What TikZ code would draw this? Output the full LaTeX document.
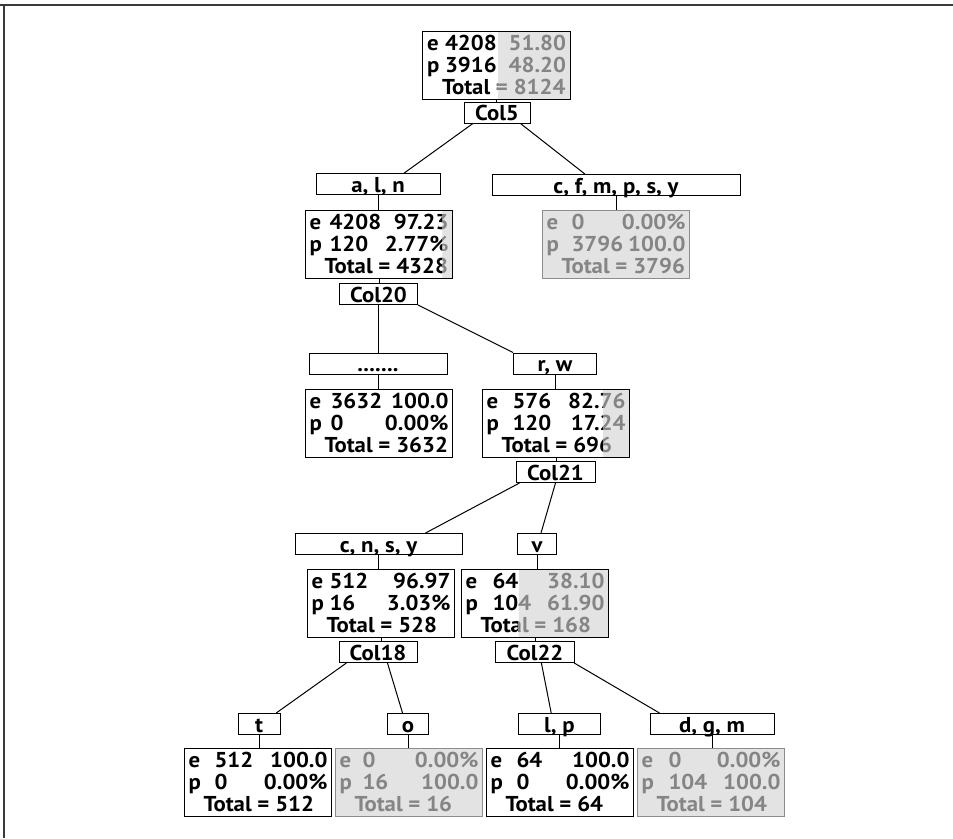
\documentclass[tikz,border=0pt]{standalone}
\usepackage{fontspec}
\setmainfont[FakeStretch=1.06]{PT Sans}
\usetikzlibrary{positioning, calc}

\definecolor{boxgray}{HTML}{E3E3E3}
\definecolor{txtgray}{HTML}{858585}
\definecolor{edgegray}{HTML}{8C8C8C}
\definecolor{framegray}{HTML}{3A3A3A}

\tikzset{
  treefont/.style={font=\bfseries\fontsize{21.5}{22}\selectfont},
  splitbox/.style={draw, line width=1pt, treefont, inner xsep=0pt, inner ysep=2pt,
    minimum height=21pt, text height=16pt, text depth=0pt},
  statnode/.style={inner sep=0pt, minimum width=147pt, minimum height=68pt, anchor=north},
  stattxt/.style={treefont, inner sep=0pt},
  branch/.style={line width=1pt},
}

% the three rows of a statistics box, in colour #1
\newcommand{\statrows}[1]{%
  \node[stattxt, #1, anchor=base west] (\nm-e) at ($(\nm.north west)+(4,19)$) {e};
  \node[stattxt, #1, anchor=base west] (\nm-ec) at ($(\nm.north west)+(\co,19)$) {\ec};
  \node[stattxt, #1, anchor=base east] (\nm-ep) at ($(\nm.north east)+(-4,19)$) {\ep};
  \node[stattxt, #1, anchor=base west] (\nm-p) at ($(\nm.north west)+(4,41)$) {p};
  \node[stattxt, #1, anchor=base west] (\nm-pc) at ($(\nm.north west)+(\co,41)$) {\pc};
  \node[stattxt, #1, anchor=base east] (\nm-pp) at ($(\nm.north east)+(-4,41)$) {\pp};
  \node[stattxt, #1, anchor=base west] (\nm-t) at ($(\nm.north west)+(19,63)$) {Total = \tot};
}

\begin{document}
\begin{tikzpicture}[x=1pt, y=-1pt]
  \useasboundingbox (0,0) rectangle (953,838);
  \draw[framegray, line width=2pt] (0,5) -- (953,5);
  \draw[framegray, line width=2pt] (4,5) -- (4,838);

  % statistics boxes: name/x/top/gray part/count column/e count/e pct/p count/p pct/total/border
  \foreach \nm/\cx/\ty/\fr/\co/\ec/\ep/\pc/\pp/\tot/\bc in {
      root/496.5/31/0.49/22/4208/51.80/3916/48.20/8124/black,
      s4328/379/210/0.07/24/4208/97.23/120/2.77\%/4328/black,
      s3796/616/210/1/29/0/0.00\%/3796/100.0/3796/edgegray,
      s3632/379/389/0/25/3632/100.0/0/0.00\%/3632/black,
      s696/556/389/0.18/30/576/82.76/120/17.24/696/black,
      s528/381/569/0/22/512/96.97/16/3.03\%/528/black,
      s168/535/569/0.61/31/64/38.10/104/61.90/168/black,
      s512/258/748/0/30/512/100.0/0/0.00\%/512/black,
      s16/409/748/1/27/0/0.00\%/16/100.0/16/edgegray,
      s64/560/748/0/30/64/100.0/0/0.00\%/64/black,
      s104/711/748/1/31/0/0.00\%/104/100.0/104/edgegray}
  {
    \node[statnode] (\nm) at (\cx,\ty) {};
    \statrows{black}
    \begin{scope}
      \clip ($(\nm.north east)!\fr!(\nm.north west)$) rectangle (\nm.south east);
      \fill[boxgray] (\nm.north west) rectangle (\nm.south east);
      \statrows{txtgray}
    \end{scope}
    \draw[\bc, line width=1pt] (\nm.north west) rectangle (\nm.south east);
  }

  % split and value boxes
  \node[splitbox, minimum width=66pt] (col5) at (497,112.5) {Col5};
  \node[splitbox, minimum width=124pt] (aln) at (378,184) {a, l, n};
  \node[splitbox, minimum width=248pt] (cfm) at (616,185) {c, f, m, p, s, y};
  \node[splitbox, minimum width=78pt] (col20) at (378.5,294) {Col20};
  \node[splitbox, minimum width=138pt] (dots) at (378,363.5) {.......};
  \node[splitbox, minimum width=83pt] (rw) at (555,363.5) {r, w};
  \node[splitbox, minimum width=79pt] (col21) at (555.5,472) {Col21};
  \node[splitbox, minimum width=167pt] (cnsy) at (378.5,544) {c, n, s, y};
  \node[splitbox, minimum width=39pt] (v) at (537,544) {v};
  \node[splitbox, minimum width=78pt] (col18) at (378,652) {Col18};
  \node[splitbox, minimum width=79pt] (col22) at (535,652) {Col22};
  \node[splitbox, minimum width=42pt] (t) at (259,724) {t};
  \node[splitbox, minimum width=41pt] (o) at (408,724) {o};
  \node[splitbox, minimum width=82pt] (lp) at (559.5,724) {l, p};
  \node[splitbox, minimum width=124pt] (dgm) at (712,724) {d, g, m};

  % connectors
  \draw[branch] (root.south) -- (root.south |- col5.north);
  \draw[branch] ($(col5.south west)!0.14!(col5.south east)$) -- ($(aln.north west)!0.71!(aln.north east)$);
  \draw[branch] ($(col5.south west)!0.85!(col5.south east)$) -- ($(cfm.north west)!0.375!(cfm.north east)$);
  \draw[branch] (aln.south) -- (aln.south |- s4328.north);
  \draw[branch] (cfm.south) -- (cfm.south |- s3796.north);
  \draw[branch] (s4328.south) -- (s4328.south |- col20.north);
  \draw[branch] (col20.south) -- (col20.south |- dots.north);
  \draw[branch] (col20.south east) -- (rw.north west);
  \draw[branch] (dots.south) -- (dots.south |- s3632.north);
  \draw[branch] (rw.south) -- (rw.south |- s696.north);
  \draw[branch] (s696.south) -- (s696.south |- col21.north);
  \draw[branch] ($(col21.south west)!0.05!(col21.south east)$) -- ($(cnsy.north west)!0.78!(cnsy.north east)$);
  \draw[branch] ($(col21.south west)!0.5!(col21.south east)$) -- ($(v.north west)!0.6!(v.north east)$);
  \draw[branch] (cnsy.south) -- (cnsy.south |- s528.north);
  \draw[branch] (v.south) -- (v.south |- s168.north);
  \draw[branch] (s528.south) -- (s528.south |- col18.north);
  \draw[branch] (s168.south) -- (s168.south |- col22.north);
  \draw[branch] ($(col18.south west)!0.1!(col18.south east)$) -- ($(t.north west)!0.9!(t.north east)$);
  \draw[branch] ($(col18.south west)!0.62!(col18.south east)$) -- ($(o.north west)!0.37!(o.north east)$);
  \draw[branch] ($(col22.south west)!0.58!(col22.south east)$) -- ($(lp.north west)!0.4!(lp.north east)$);
  \draw[branch] ($(col22.south west)!0.99!(col22.south east)$) -- ($(dgm.north west)!0.08!(dgm.north east)$);
  \draw[branch] (t.south) -- (t.south |- s512.north);
  \draw[branch] (o.south) -- (o.south |- s16.north);
  \draw[branch] (lp.south) -- (lp.south |- s64.north);
  \draw[branch] (dgm.south) -- (dgm.south |- s104.north);
\end{tikzpicture}
\end{document}
